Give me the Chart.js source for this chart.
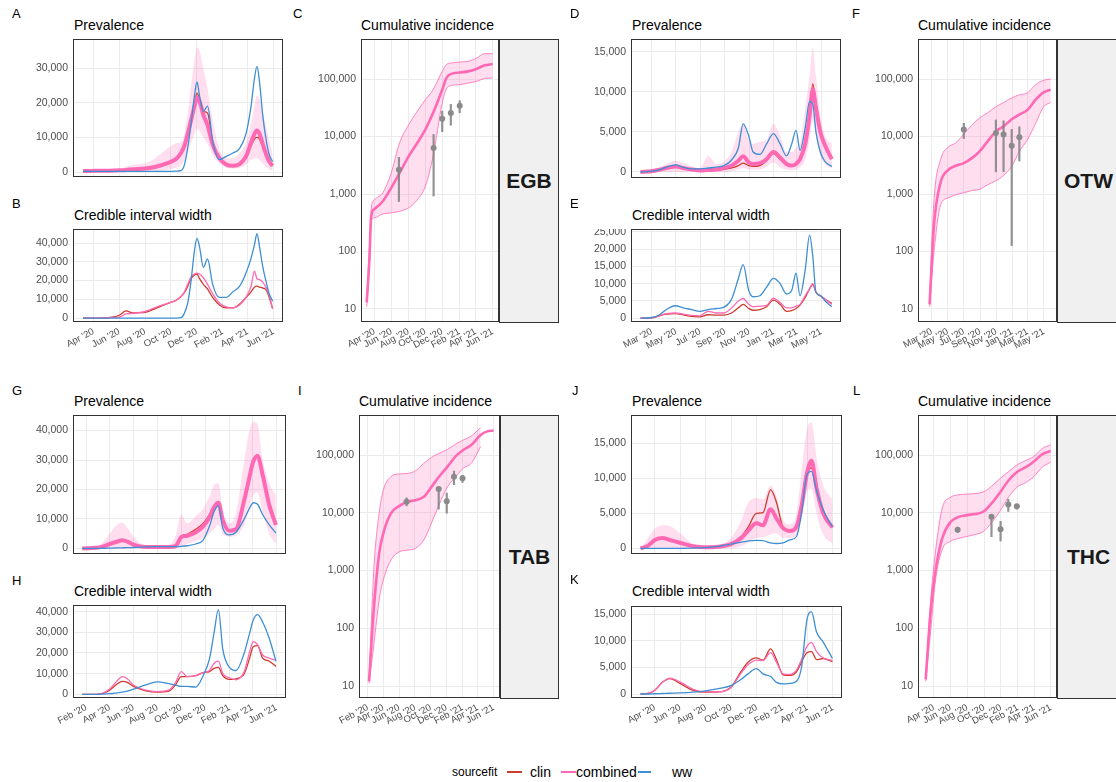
<!DOCTYPE html>
<html>
<head>
<meta charset="utf-8">
<script src="https://cdn.jsdelivr.net/npm/chart.js@4.4.0/dist/chart.umd.min.js"></script>
<style>
  body { margin:0; background:#fff; width:1116px; height:782px; overflow:hidden; position:relative;
         font-family:"Liberation Sans", Arial, sans-serif; }
  canvas { position:absolute; }
  .txt { position:absolute; white-space:nowrap; line-height:1; color:#000; }
  .strip { position:absolute; background:#f0f0f0; border:1px solid #333; box-sizing:border-box;
           display:flex; align-items:center; justify-content:center; font-weight:bold;
           font-size:21px; color:#1a1a1a; }
  .key { position:absolute; height:2px; z-index:2; }
</style>
</head>
<body>
<script>
// ---------------- EGB ----------------
const egbSpan = ['2020-03-06', '2021-06-01'];
const egbTicks = ['2020-04-01','2020-06-01','2020-08-01','2020-10-01','2020-12-01','2021-02-01','2021-04-01','2021-06-01'];
const egbDates = ['2020-03-07','2020-03-22','2020-04-15','2020-05-09','2020-06-01','2020-06-17','2020-07-03','2020-08-01','2020-08-19','2020-09-04','2020-10-02','2020-10-14','2020-10-25','2020-11-02','2020-11-10','2020-11-18','2020-11-26','2020-12-02','2020-12-08','2020-12-17','2020-12-27','2021-01-08','2021-01-24','2021-02-09','2021-02-25','2021-03-13','2021-03-28','2021-04-09','2021-04-17','2021-04-23','2021-04-29','2021-05-07','2021-05-15','2021-05-22','2021-05-30'];
const egbPrevClin = [300,300,350,400,500,600,800,1000,1300,1800,3000,3800,5500,7500,11000,15500,20000,22800,21000,17500,17000,8500,4000,2200,1800,2200,4000,7500,9500,10000,9500,7000,4500,2800,1700];
const egbPrevComb = [300,300,350,400,500,600,800,1000,1300,1800,3000,3800,5500,7500,11000,15000,19000,21500,20500,16500,13500,8000,4000,2200,1800,2300,4500,8500,11000,12000,11000,8000,5000,3000,1800];
const egbPrevWw   = [200,200,200,200,200,200,200,200,200,200,200,250,400,2000,7000,14000,22000,26000,22000,17500,19000,9000,3600,4500,5500,6800,11000,19000,27000,30500,26000,16000,9000,5000,3000];
const egbPrevHi   = [400,800,500,500,600,1500,2000,2500,3500,5000,7500,8300,8500,11000,17000,25000,32000,36000,35000,30000,24000,15000,6500,4000,4000,5500,8500,14000,19000,22000,21000,17000,13000,9000,5000];
const egbPrevLo   = [0,0,0,0,0,0,0,100,200,400,800,1200,2000,3500,5500,8500,11000,12500,12000,10000,8000,5000,2500,1200,1000,1200,2200,3500,4000,4000,3500,2500,1500,800,300];
const egbCiClin = [0,0,0,300,1500,3800,2800,3000,4500,6000,8500,9500,11500,13500,17000,21000,23000,23500,21000,18000,15500,11000,7000,5500,5500,7500,11000,14000,16500,17000,16500,16000,15000,11000,5000];
const egbCiComb = [0,0,0,200,500,2200,2500,3500,5000,6500,8500,9500,11500,14000,18000,22000,23500,24000,23500,21500,18000,13000,8000,6000,5500,7000,11000,17000,25000,21000,20500,19000,16000,12000,5000];
const egbCiWw   = [0,0,0,0,0,0,0,0,0,0,0,0,200,2500,8000,20000,36000,42500,38000,27000,31500,18000,11000,11000,14000,17000,24000,32000,39000,45000,38000,27000,19000,13000,9000];
const egbCumDates = ['2020-03-04','2020-03-14','2020-03-20','2020-04-01','2020-05-01','2020-05-31','2020-06-30','2020-08-02','2020-08-29','2020-10-01','2020-10-29','2020-12-01','2020-12-16','2021-01-03','2021-02-02','2021-03-04','2021-04-03','2021-05-03','2021-06-01'];
const egbCumComb = [13,80,410,550,750,1270,2300,4500,7200,13200,25600,65000,104000,123000,130000,136000,150000,173000,182000];
const egbCumHi   = [15,120,550,800,1050,2300,7700,16000,25600,43500,65000,136000,178000,190000,198000,203000,231000,276000,276000];
const egbCumLo   = [11,60,340,385,450,470,500,575,750,1350,4500,38000,67000,77000,80000,85000,91000,102000,104000];
const egbSeroDates = ['2020-06-28','2020-10-31','2020-12-01','2021-01-01','2021-02-02'];
const egbSeroVal = [2650,6300,20400,25600,34400];
const egbSeroLo  = [730,910,12000,15500,25600];
const egbSeroHi  = [4400,11000,28000,36700,42600];

// ---------------- OTW ----------------
const otwSpan = ['2020-02-02', '2021-05-27'];
const otwTicks = ['2020-03-01','2020-05-01','2020-07-01','2020-09-01','2020-11-01','2021-01-01','2021-03-01','2021-05-01'];
const otwDates = ['2020-02-02','2020-03-01','2020-03-21','2020-04-07','2020-04-30','2020-05-19','2020-06-09','2020-06-30','2020-07-21','2020-08-11','2020-08-30','2020-09-18','2020-10-05','2020-10-17','2020-10-31','2020-11-11','2020-11-28','2020-12-15','2021-01-01','2021-01-18','2021-02-03','2021-02-16','2021-02-27','2021-03-09','2021-03-22','2021-04-02','2021-04-10','2021-04-18','2021-04-29','2021-05-11','2021-05-28'];
const otwPrevClin = [0,100,300,500,650,500,300,200,200,250,350,500,800,1100,800,700,800,1400,2300,1600,900,750,900,1500,3300,7000,11000,8500,5200,3500,1800];
const otwPrevComb = [0,100,300,500,700,500,300,200,250,300,500,800,1400,1950,1200,1000,1100,1600,2500,1800,1000,800,1000,1600,3500,7000,10300,8000,5000,3300,1600];
const otwPrevWw   = [0,100,300,600,900,600,400,400,500,600,800,1500,3000,6000,4500,2500,2200,3500,4800,3500,2000,3500,5200,2700,5500,8800,8500,5000,2500,1300,700];
const otwPrevHi   = [100,300,600,1000,1400,1200,700,500,2000,1000,1300,2500,5000,6000,4000,3500,3800,4000,6000,4500,2500,2500,3000,3500,8000,12000,15500,12000,7000,4500,3500];
const otwPrevLo   = [0,0,0,0,0,0,0,0,0,0,0,100,300,500,300,300,300,700,1200,600,300,200,300,600,1500,4000,6500,4500,2000,1000,400];
const otwCiClin = [0,100,700,1200,1300,1000,500,400,1000,900,900,1500,3000,4000,2800,2300,2500,3300,5200,4000,2000,2200,2800,3800,6000,8500,9800,7500,6500,5500,4300];
const otwCiComb = [0,100,800,1300,1500,1200,800,700,2000,1500,1500,3000,5000,5700,4000,3300,3500,3700,5800,4500,3000,3000,3500,4000,6500,8500,10000,7500,6500,5500,4000];
const otwCiWw   = [0,200,1000,2500,3600,3000,2500,2000,2500,2800,3200,5500,11500,15500,8000,6200,6500,9000,11500,10000,7000,8000,13000,6500,14000,24000,18000,7500,6500,5000,3300];
const otwCumDates = ['2020-02-22','2020-03-10','2020-04-04','2020-05-02','2020-05-31','2020-07-01','2020-08-02','2020-08-30','2020-09-30','2020-10-31','2020-11-29','2020-12-30','2021-01-28','2021-03-01','2021-03-31','2021-04-30','2021-05-27'];
const otwCumComb = [12,300,1600,2600,3100,3450,4250,5500,8300,12300,15000,20000,24000,29400,43700,58600,65000];
const otwCumHi   = [15,800,4000,6500,7700,11000,16000,21000,26000,33000,39000,47000,53000,58000,80000,95000,100000];
const otwCumLo   = [11,100,650,850,970,1050,1150,1200,1450,1700,2100,3000,5500,9000,17000,33000,39000];
const otwSeroDates = ['2020-07-01','2020-10-31','2020-11-29','2020-12-30','2021-01-28'];
const otwSeroVal = [13200,11500,10800,6900,9700];
const otwSeroLo  = [9100,2400,2400,125,3700];
const otwSeroHi  = [17200,19700,19000,13500,15000];

// ---------------- TAB ----------------
const tabSpan = ['2020-01-23', '2021-06-01'];
const tabTicks = ['2020-02-01','2020-04-01','2020-06-01','2020-08-01','2020-10-01','2020-12-01','2021-02-01','2021-04-01','2021-06-01'];
const tabDates = ['2020-01-22','2020-02-26','2020-03-14','2020-04-01','2020-04-20','2020-05-03','2020-05-16','2020-06-01','2020-07-02','2020-07-31','2020-08-30','2020-09-16','2020-10-01','2020-10-16','2020-11-07','2020-11-26','2020-12-12','2020-12-24','2021-01-04','2021-01-15','2021-02-01','2021-02-18','2021-03-11','2021-03-24','2021-04-03','2021-04-14','2021-04-27','2021-05-14','2021-05-31'];
const tabPrevClin = [0,200,600,1500,2300,2800,2300,1300,500,500,500,800,4200,4800,6500,8500,11500,14500,16000,9800,6000,6500,16400,24000,29500,31800,25000,15000,8000];
const tabPrevComb = [0,200,600,1500,2300,2800,2300,1300,500,500,500,800,3800,4300,5500,7500,10500,14000,15500,9600,6000,6500,16400,24000,29500,31400,25000,14700,8000];
const tabPrevWw   = [0,0,50,100,150,200,250,300,500,600,600,600,700,900,1500,2800,7500,12500,14500,7000,4600,5500,10000,13500,15500,15000,11500,8000,5200];
const tabPrevHi   = [0,400,2000,5000,8000,8800,7000,4000,1000,800,1000,4000,11500,8500,11000,13500,17500,21500,22000,13000,8500,12000,30000,40000,43000,42000,30000,22000,18000];
const tabPrevLo   = [0,0,0,0,0,0,0,0,0,0,0,0,500,1500,2500,3500,5000,6500,8000,5000,4000,4500,8000,14000,18000,19000,12000,5000,1500];
const tabCiClin = [0,0,400,2000,5000,6200,5800,3800,1700,1000,1500,4500,8500,8500,9000,10500,11000,12500,13000,9000,7200,7500,10000,17000,23000,23500,17500,16000,13500];
const tabCiComb = [0,0,500,2500,6500,8500,7500,4500,2000,1300,2000,5500,11000,8500,9000,10500,11500,15000,16000,10000,8000,7000,11000,20000,25500,24000,19000,17500,16500];
const tabCiWw   = [0,0,100,300,700,1000,1500,2500,4500,6000,5200,4500,3800,3800,3500,9000,17000,30000,41000,22000,13000,11500,20000,29000,36000,38500,35000,27000,16000];
const tabCumDates = ['2020-02-06','2020-02-25','2020-03-16','2020-04-01','2020-04-30','2020-06-01','2020-07-03','2020-08-02','2020-09-05','2020-10-04','2020-11-02','2020-12-05','2021-01-06','2021-02-04','2021-03-07','2021-04-12','2021-05-05','2021-06-01'];
const tabCumComb = [12,235,1950,4400,9700,13000,15500,16500,19000,28000,42000,63000,96000,122000,149000,222000,254000,265000];
const tabCumHi   = [13,1150,9700,24500,42000,47000,48000,53000,72000,91000,107000,125000,155000,182000,214000,298000,null,null];
const tabCumLo   = [11,54,310,680,1500,2100,2250,2400,3400,6600,13600,28000,42000,59000,72000,140000,null,null];
const tabSeroDates = ['2020-06-30','2020-11-01','2020-12-02','2020-12-30','2021-02-01'];
const tabSeroVal = [15500,25700,15900,42000,39400];
const tabSeroLo  = [13000,11400,9700,30200,33100];
const tabSeroHi  = [18400,27000,22200,53500,45000];

// ---------------- THC ----------------
const thcSpan = ['2020-02-27', '2021-05-31'];
const thcTicks = ['2020-04-01','2020-06-01','2020-08-01','2020-10-01','2020-12-01','2021-02-01','2021-04-01','2021-06-01'];
const thcDates = ['2020-02-27','2020-03-16','2020-04-01','2020-04-19','2020-05-07','2020-05-31','2020-07-02','2020-07-31','2020-08-31','2020-09-30','2020-10-25','2020-11-10','2020-11-30','2020-12-16','2021-01-03','2021-01-17','2021-02-02','2021-02-18','2021-03-06','2021-03-18','2021-03-31','2021-04-11','2021-04-23','2021-05-09','2021-05-31'];
const thcPrevClin = [0,400,1200,1500,1200,800,300,150,250,600,1700,3000,5000,5100,8400,6600,3000,2500,3000,5800,10500,11500,8500,5000,3000];
const thcPrevComb = [0,400,1200,1500,1200,800,300,150,250,600,1500,2500,3600,3300,5600,4300,2900,2500,3100,6000,10700,12500,8600,5000,3000];
const thcPrevWw   = [0,0,0,0,0,0,50,100,300,600,900,1050,1150,1100,800,700,800,1200,1700,5000,10500,11000,8300,5500,3100];
const thcPrevHi   = [0,1500,2800,3300,3200,2200,600,300,500,1500,4000,6500,7200,7000,9000,7500,4000,3500,5000,11000,17000,18000,13000,9000,7000];
const thcPrevLo   = [0,0,0,0,0,0,0,0,0,0,300,800,1500,1600,2000,2200,1500,1500,2000,4000,8000,8500,5000,2000,700];
const thcCiClin = [0,100,700,2200,2900,2000,700,350,400,1300,4300,6000,6800,6400,8500,6500,3600,3500,4200,6000,7800,8000,6500,6700,6100];
const thcCiComb = [0,100,700,2200,3000,2300,900,400,400,1200,4000,5500,6400,6300,7800,6000,3800,3700,4500,6500,9000,9700,8000,6800,6300];
const thcCiWw   = [0,0,50,100,150,200,350,600,1000,1600,2800,3800,4800,3800,3300,2200,1900,2000,2400,5000,14000,15500,11700,9800,6700];
const thcCumDates = ['2020-03-03','2020-03-21','2020-04-08','2020-05-02','2020-06-01','2020-07-01','2020-07-31','2020-08-29','2020-09-28','2020-10-28','2020-11-30','2020-12-30','2021-01-30','2021-02-28','2021-03-30','2021-05-01','2021-05-31'];
const thcCumComb = [13,200,1020,3600,6900,8500,9100,9500,10400,14500,23200,36900,51400,61000,76600,104000,117000];
const thcCumHi   = [14,300,2200,12000,18500,20500,21000,21500,23000,28500,40000,52000,68000,80000,94000,130000,150000];
const thcCumLo   = [12,90,700,2300,3200,3600,3900,4200,4700,6700,11000,19000,28000,33000,42000,62000,75000];
const thcSeroDates = ['2020-06-27','2020-10-28','2020-11-30','2020-12-28','2021-01-28'];
const thcSeroVal = [5100,8500,5200,13900,13000];
const thcSeroLo  = [4500,3800,3200,10400,11400];
const thcSeroHi  = [5700,9100,7200,17300,14100];

// ---------------- axis tick values ----------------
const ticksA = [0, 10000, 20000, 30000];
const ticks40k = [0, 10000, 20000, 30000, 40000];
const ticks15k = [0, 5000, 10000, 15000];
const ticks25k = [0, 5000, 10000, 15000, 20000, 25000];
const ticksLog = [10, 100, 1000, 10000, 100000];

// ---------------- helpers ----------------
const DAY = 86400000;
const ORIGIN = Date.UTC(2020, 0, 1);
const MONTHS = ['Jan','Feb','Mar','Apr','May','Jun','Jul','Aug','Sep','Oct','Nov','Dec'];
const dayNum = s => (Date.UTC(+s.slice(0,4), +s.slice(5,7) - 1, +s.slice(8,10)) - ORIGIN) / DAY;
const monthLabel = v => {
  const d = new Date(ORIGIN + Math.round(v) * DAY);
  return MONTHS[d.getUTCMonth()] + " '" + String(d.getUTCFullYear()).slice(2);
};
const pts = (dates, vals) => dates.map((d, i) => ({ x: dayNum(d), y: vals[i] }));
const spanRange = span => {
  const a = dayNum(span[0]), b = dayNum(span[1]), e = (b - a) * 0.05;
  return [a - e, b + e];
};

const CLIN = '#cd3b2c', COMB = '#ff69b4', WW = '#3e8ed3';
const BAND = 'rgba(255,105,180,0.22)';
const FONT = '"Liberation Sans", Arial, sans-serif';
const TICK_COLOR = '#4d4d4d';
const GRID = '#ebebeb';
const YW = 70;          // width reserved for the y tick labels
const XH = 46;          // height reserved for the rotated date labels

const framePlugin = {
  id: 'frame',
  afterDraw(chart) {
    const { ctx, chartArea: a } = chart;
    ctx.save();
    ctx.strokeStyle = '#333';
    ctx.lineWidth = 1;
    ctx.strokeRect(a.left + 0.5, a.top + 0.5, a.right - a.left - 1, a.bottom - a.top - 1);
    ctx.restore();
  }
};

function seroPlugin(dates, val, lo, hi) {
  return {
    id: 'sero',
    afterDatasetsDraw(chart) {
      const { ctx, scales: { x, y } } = chart;
      ctx.save();
      dates.forEach((d, i) => {
        const px = x.getPixelForValue(dayNum(d));
        ctx.strokeStyle = 'rgba(128,128,128,0.85)';
        ctx.lineWidth = 2.2;
        ctx.beginPath();
        ctx.moveTo(px, y.getPixelForValue(lo[i]));
        ctx.lineTo(px, y.getPixelForValue(hi[i]));
        ctx.stroke();
        ctx.fillStyle = '#8a8a8a';
        ctx.beginPath();
        ctx.arc(px, y.getPixelForValue(val[i]), 3, 0, Math.PI * 2);
        ctx.fill();
      });
      ctx.restore();
    }
  };
}

function line(data, color, width, order, extra) {
  return Object.assign({ data, borderColor: color, borderWidth: width, order,
    pointRadius: 0, fill: false, cubicInterpolationMode: 'monotone' }, extra || {});
}

function panel(box, opt) {
  const xh = opt.xLabels ? XH : 0;
  const w = box.R - box.L + YW, h = box.B - box.T + xh;
  const c = document.createElement('canvas');
  c.width = w; c.height = h;
  c.style.left = (box.L - YW) + 'px'; c.style.top = box.T + 'px';
  c.style.width = w + 'px'; c.style.height = h + 'px';
  document.body.appendChild(c);
  const [xmin, xmax] = spanRange(opt.span);
  const tickDays = opt.xTicks.map(dayNum);
  new Chart(c, {
    type: 'line',
    data: { datasets: opt.datasets },
    options: {
      responsive: false, animation: false, devicePixelRatio: 1,
      layout: { padding: 0 },
      plugins: { legend: { display: false }, tooltip: { enabled: false }, title: { display: false } },
      scales: {
        x: {
          type: 'linear', min: xmin, max: xmax,
          grid: { color: GRID, lineWidth: 1, drawTicks: false },
          border: { display: false },
          ticks: {
            display: !!opt.xLabels, autoSkip: false, minRotation: 28, maxRotation: 28,
            padding: 4, color: TICK_COLOR, font: { family: FONT, size: 9.5 },
            callback: v => monthLabel(v)
          },
          afterBuildTicks: s => { s.ticks = tickDays.map(v => ({ value: v })); },
          afterFit: s => { s.height = xh; s.paddingLeft = 0; s.paddingRight = 0; }
        },
        y: {
          type: opt.log ? 'logarithmic' : 'linear', min: opt.y[0], max: opt.y[1],
          grid: { color: GRID, lineWidth: 1, drawTicks: false },
          border: { display: false },
          ticks: { padding: 5, color: TICK_COLOR, font: { family: FONT, size: 10.5 },
                   callback: v => Number(v).toLocaleString('en-US') },
          afterBuildTicks: s => { s.ticks = opt.yTicks.map(v => ({ value: v })); },
          afterFit: s => { s.width = YW; s.paddingTop = 0; s.paddingBottom = 0; }
        }
      }
    },
    plugins: [framePlugin].concat(opt.extraPlugins || [])
  });
}

function prevSets(dates, hi, lo, clin, comb, ww) {
  return [
    line(pts(dates, hi), 'transparent', 0, 3, { fill: '+1', backgroundColor: BAND }),
    line(pts(dates, lo), 'transparent', 0, 3),
    line(pts(dates, clin), CLIN, 1.3, 2),
    line(pts(dates, comb), COMB, 4, 1),
    line(pts(dates, ww), WW, 1.3, 0)
  ];
}
function ciSets(dates, clin, comb, ww) {
  return [
    line(pts(dates, clin), CLIN, 1.3, 2),
    line(pts(dates, comb), COMB, 1.3, 1),
    line(pts(dates, ww), WW, 1.3, 0)
  ];
}
function cumSets(dates, hi, lo, comb) {
  return [
    line(pts(dates, hi), COMB, 0.8, 3, { fill: '+1', backgroundColor: BAND }),
    line(pts(dates, lo), COMB, 0.8, 3),
    line(pts(dates, comb), COMB, 2.6, 1)
  ];
}

function text(str, x, baseline, size, bold) {
  const d = document.createElement('div');
  d.className = 'txt';
  d.textContent = str;
  d.style.fontSize = size + 'px';
  if (bold) d.style.fontWeight = 'bold';
  d.style.left = x + 'px';
  d.style.top = (baseline - Math.round(size * 0.855)) + 'px';
  document.body.appendChild(d);
}
function strip(label, L, T, R, B) {
  const d = document.createElement('div');
  d.className = 'strip';
  d.textContent = label;
  Object.assign(d.style, { left: L + 'px', top: T + 'px', width: (R - L) + 'px', height: (B - T) + 'px' });
  document.body.appendChild(d);
}
function key(color, x0, x1, y) {
  const d = document.createElement('div');
  d.className = 'key';
  d.style.left = x0 + 'px';
  d.style.top = y + 'px';
  d.style.width = (x1 - x0) + 'px';
  d.style.backgroundColor = color;
  document.body.appendChild(d);
}

// ---------------- strips (region labels) ----------------
strip('EGB', 499, 39, 559, 323);
strip('OTW', 1057, 39, 1120, 323);
strip('TAB', 500, 415, 559, 699);
strip('THC', 1057, 415, 1120, 699);

// ---------------- panels ----------------
panel({ L: 73, T: 39, R: 283, B: 177 }, { span: egbSpan, xTicks: egbTicks, y: [-1440, 38400], yTicks: ticksA,
  datasets: prevSets(egbDates, egbPrevHi, egbPrevLo, egbPrevClin, egbPrevComb, egbPrevWw) });
panel({ L: 73, T: 229, R: 283, B: 322 }, { span: egbSpan, xTicks: egbTicks, xLabels: true, y: [-2100, 47500], yTicks: ticks40k,
  datasets: ciSets(egbDates, egbCiClin, egbCiComb, egbCiWw) });
panel({ L: 361, T: 39, R: 499, B: 322 }, { span: egbSpan, xTicks: egbTicks, xLabels: true, log: true, y: [5.94, 497000], yTicks: ticksLog,
  datasets: cumSets(egbCumDates, egbCumHi, egbCumLo, egbCumComb),
  extraPlugins: [seroPlugin(egbSeroDates, egbSeroVal, egbSeroLo, egbSeroHi)] });

panel({ L: 631, T: 39, R: 841, B: 178 }, { span: otwSpan, xTicks: otwTicks, y: [-750, 16600], yTicks: ticks15k,
  datasets: prevSets(otwDates, otwPrevHi, otwPrevLo, otwPrevClin, otwPrevComb, otwPrevWw) });
panel({ L: 631, T: 229, R: 841, B: 322 }, { span: otwSpan, xTicks: otwTicks, xLabels: true, y: [-1100, 25800], yTicks: ticks25k,
  datasets: ciSets(otwDates, otwCiClin, otwCiComb, otwCiWw) });
panel({ L: 918, T: 39, R: 1057, B: 322 }, { span: otwSpan, xTicks: otwTicks, xLabels: true, log: true, y: [5.94, 497000], yTicks: ticksLog,
  datasets: cumSets(otwCumDates, otwCumHi, otwCumLo, otwCumComb),
  extraPlugins: [seroPlugin(otwSeroDates, otwSeroVal, otwSeroLo, otwSeroHi)] });

panel({ L: 73, T: 415, R: 286, B: 554 }, { span: tabSpan, xTicks: tabTicks, y: [-1900, 45300], yTicks: ticks40k,
  datasets: prevSets(tabDates, tabPrevHi, tabPrevLo, tabPrevClin, tabPrevComb, tabPrevWw) });
panel({ L: 73, T: 605, R: 286, B: 698 }, { span: tabSpan, xTicks: tabTicks, xLabels: true, y: [-1800, 43200], yTicks: ticks40k,
  datasets: ciSets(tabDates, tabCiClin, tabCiComb, tabCiWw) });
panel({ L: 359, T: 415, R: 500, B: 698 }, { span: tabSpan, xTicks: tabTicks, xLabels: true, log: true, y: [6.2, 493000], yTicks: ticksLog,
  datasets: cumSets(tabCumDates, tabCumHi, tabCumLo, tabCumComb),
  extraPlugins: [seroPlugin(tabSeroDates, tabSeroVal, tabSeroLo, tabSeroHi)] });

panel({ L: 631, T: 415, R: 842, B: 554 }, { span: thcSpan, xTicks: thcTicks, y: [-800, 19050], yTicks: ticks15k,
  datasets: prevSets(thcDates, thcPrevHi, thcPrevLo, thcPrevClin, thcPrevComb, thcPrevWw) });
panel({ L: 631, T: 606, R: 842, B: 698 }, { span: thcSpan, xTicks: thcTicks, xLabels: true, y: [-750, 16600], yTicks: ticks15k,
  datasets: ciSets(thcDates, thcCiClin, thcCiComb, thcCiWw) });
panel({ L: 918, T: 415, R: 1057, B: 698 }, { span: thcSpan, xTicks: thcTicks, xLabels: true, log: true, y: [6.2, 493000], yTicks: ticksLog,
  datasets: cumSets(thcCumDates, thcCumHi, thcCumLo, thcCumComb),
  extraPlugins: [seroPlugin(thcSeroDates, thcSeroVal, thcSeroLo, thcSeroHi)] });

// ---------------- panel letters and titles ----------------
[['A',12,18],['B',12,208],['C',293,18],['D',570,18],['E',570,208],['F',852,18],
 ['G',12,395],['H',12,585],['I',298,395],['J',572,395],['K',570,584],['L',853,395]]
  .forEach(([s, x, b]) => text(s, x, b, 13));
[['Prevalence',74,30],['Credible interval width',74,220],['Cumulative incidence',361,30],
 ['Prevalence',632,30],['Credible interval width',632,220],['Cumulative incidence',918,30],
 ['Prevalence',74,406],['Credible interval width',74,596],['Cumulative incidence',359,406],
 ['Prevalence',632,406],['Credible interval width',632,596],['Cumulative incidence',918,406]]
  .forEach(([s, x, b]) => text(s, x, b, 14));

// ---------------- legend ----------------
text('sourcefit', 452, 776, 12);
text('clin', 530, 777, 14);
text('combined', 576, 777, 14);
text('ww', 672, 777, 14);
key(CLIN, 507, 522, 771);
key(COMB, 561, 576, 771);
key(WW, 638, 651, 771);
</script>
</body>
</html>
